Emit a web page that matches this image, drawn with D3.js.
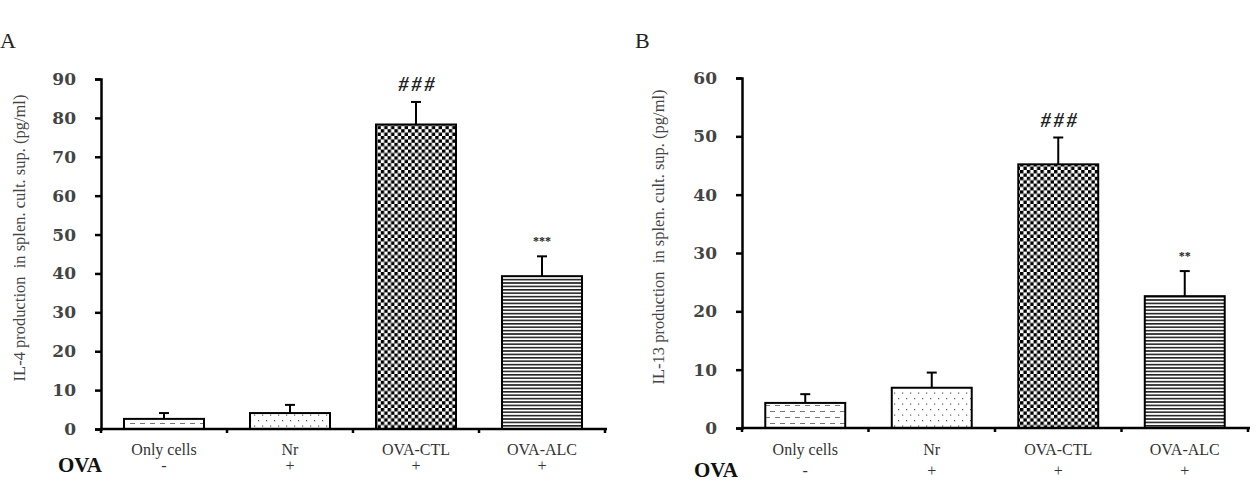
<!DOCTYPE html>
<html><head><meta charset="utf-8">
<script src="https://cdn.jsdelivr.net/npm/d3@7"></script>
<style>body{margin:0;background:#fff}svg{display:block}</style>
</head><body>
<svg id="c" width="1257" height="495"></svg>
<script>
const categories = ["Only cells", "Nr", "OVA-CTL", "OVA-ALC"];
const ovaSigns = ["-", "+", "+", "+"];
const il4Mean = [2.6, 4.1, 78.3, 39.3];
const il4Err = [1.5, 2.1, 5.8, 5.1];
const il4Sig = ["", "", "###", "***"];
const il4Ticks = [0, 10, 20, 30, 40, 50, 60, 70, 80, 90];
const il13Mean = [4.3, 6.9, 45.2, 22.6];
const il13Err = [1.5, 2.6, 4.6, 4.3];
const il13Sig = ["", "", "###", "**"];
const il13Ticks = [0, 10, 20, 30, 40, 50, 60];
const patternIds = ["pDash", "pDot", "pCheck", "pStripe"];

const svg = d3.select("#c");
const defs = svg.append("defs");
let p = defs.append("pattern").attr("id", "pDash").attr("patternUnits", "userSpaceOnUse").attr("width", 10).attr("height", 12);
p.append("rect").attr("width", 10).attr("height", 12).attr("fill", "#fff");
p.append("line").attr("x1", 0).attr("x2", 5).attr("y1", 3.5).attr("y2", 3.5).attr("stroke", "#777").attr("stroke-width", 1);
p.append("line").attr("x1", 5).attr("x2", 10).attr("y1", 9.5).attr("y2", 9.5).attr("stroke", "#777").attr("stroke-width", 1);
p = defs.append("pattern").attr("id", "pDot").attr("patternUnits", "userSpaceOnUse").attr("width", 8).attr("height", 11);
p.append("rect").attr("width", 8).attr("height", 11).attr("fill", "#fff");
p.append("rect").attr("x", 2).attr("y", 2).attr("width", 1.2).attr("height", 1.2).attr("fill", "#555");
p.append("rect").attr("x", 6).attr("y", 7.5).attr("width", 1.2).attr("height", 1.2).attr("fill", "#555");
p = defs.append("pattern").attr("id", "pCheck").attr("patternUnits", "userSpaceOnUse").attr("width", 6.8).attr("height", 6.8);
p.append("rect").attr("width", 6.8).attr("height", 6.8).attr("fill", "#fff");
p.append("rect").attr("width", 3.4).attr("height", 3.4).attr("fill", "#000");
p.append("rect").attr("x", 3.4).attr("y", 3.4).attr("width", 3.4).attr("height", 3.4).attr("fill", "#000");
p = defs.append("pattern").attr("id", "pStripe").attr("patternUnits", "userSpaceOnUse").attr("width", 10).attr("height", 3.4);
p.append("rect").attr("width", 10).attr("height", 3.4).attr("fill", "#fff");
p.append("rect").attr("y", 0).attr("width", 10).attr("height", 1.6).attr("fill", "#222");

function panel(cfg) {
  const g = svg.append("g");
  const y = d3.scaleLinear().domain([0, cfg.max]).range([cfg.y0, cfg.y1]);
  const x = d3.scaleBand().domain(categories).range([cfg.x0, cfg.x1]).paddingInner(cfg.pad).paddingOuter(cfg.pad / 2);
  const step = x.step();

  g.selectAll("rect.bar").data(categories).join("rect")
    .attr("x", d => x(d)).attr("width", x.bandwidth())
    .attr("y", (d, i) => y(cfg.mean[i])).attr("height", (d, i) => y(0) - y(cfg.mean[i]))
    .attr("fill", (d, i) => `url(#${patternIds[i]})`)
    .attr("stroke", "#000").attr("stroke-width", 2);

  const eb = g.selectAll("g.eb").data(categories).join("g");
  eb.append("line")
    .attr("x1", d => x(d) + x.bandwidth() / 2).attr("x2", d => x(d) + x.bandwidth() / 2)
    .attr("y1", (d, i) => y(cfg.mean[i])).attr("y2", (d, i) => y(cfg.mean[i] + cfg.err[i]))
    .attr("stroke", "#000").attr("stroke-width", 2);
  eb.append("line")
    .attr("x1", d => x(d) + x.bandwidth() / 2 - 5).attr("x2", d => x(d) + x.bandwidth() / 2 + 5)
    .attr("y1", (d, i) => y(cfg.mean[i] + cfg.err[i])).attr("y2", (d, i) => y(cfg.mean[i] + cfg.err[i]))
    .attr("stroke", "#000").attr("stroke-width", 2);

  g.selectAll("text.sig").data(categories).join("text")
    .attr("x", (d, i) => x(d) + x.bandwidth() / 2 + (cfg.sig[i].startsWith("#") ? 2 : 0))
    .attr("y", (d, i) => y(cfg.mean[i] + cfg.err[i]) - 11)
    .attr("text-anchor", "middle")
    .attr("font-family", "Liberation Serif")
    .attr("font-weight", "bold")
    .attr("font-style", (d, i) => cfg.sig[i].startsWith("#") ? "italic" : "normal")
    .attr("font-size", (d, i) => cfg.sig[i].startsWith("#") ? 20 : 12)
    .attr("letter-spacing", (d, i) => cfg.sig[i].startsWith("#") ? 3 : 0)
    .attr("fill", "#222")
    .text((d, i) => cfg.sig[i]);

  const ya = g.append("g").attr("transform", `translate(${cfg.x0},0)`)
    .call(d3.axisLeft(y).tickValues(cfg.ticks).tickSize(6).tickSizeOuter(6).tickPadding(19).tickFormat(d3.format("d")));
  ya.select(".domain").attr("stroke", "#000").attr("stroke-width", 2.5);
  ya.selectAll(".tick line").attr("stroke", "#000").attr("stroke-width", 2.5);
  ya.selectAll(".tick text").attr("font-family", "DejaVu Serif").attr("font-weight", "bold")
    .attr("font-size", 17).attr("fill", "#444");

  g.append("line").attr("x1", cfg.x0 - 1).attr("x2", cfg.x1 + 2).attr("y1", y(0)).attr("y2", y(0))
    .attr("stroke", "#000").attr("stroke-width", 2.5);
  g.append("line").attr("x1", cfg.x0).attr("x2", cfg.x0).attr("y1", y(0)).attr("y2", y(0) + 4)
    .attr("stroke", "#000").attr("stroke-width", 2.5);
  g.selectAll("line.xt").data(categories).join("line")
    .attr("x1", d => x(d) + x.bandwidth() + step * cfg.pad / 2)
    .attr("x2", d => x(d) + x.bandwidth() + step * cfg.pad / 2)
    .attr("y1", y(0)).attr("y2", y(0) + 4)
    .attr("stroke", "#000").attr("stroke-width", 2.5);

  g.selectAll("text.cat").data(categories).join("text")
    .attr("x", d => x(d) + x.bandwidth() / 2).attr("y", cfg.catY)
    .attr("text-anchor", "middle").attr("font-family", "Liberation Serif").attr("font-size", 16)
    .attr("fill", "#333").text(d => d);
  g.selectAll("text.sign").data(ovaSigns).join("text")
    .attr("x", (d, i) => x(categories[i]) + x.bandwidth() / 2).attr("y", cfg.signY)
    .attr("text-anchor", "middle").attr("font-family", "Liberation Serif").attr("font-size", 16)
    .attr("fill", "#333").text(d => d);
  g.append("text").attr("x", cfg.ovaX).attr("y", cfg.ovaY).attr("text-anchor", "end")
    .attr("font-family", "Liberation Serif").attr("font-weight", "bold").attr("font-size", 21)
    .attr("fill", "#111").text("OVA");

  g.append("text").attr("transform", `translate(${cfg.labX},${cfg.labY}) rotate(-90)`)
    .attr("text-anchor", "middle").attr("font-family", "Liberation Serif").attr("font-size", 16.5)
    .attr("fill", "#444").attr("xml:space", "preserve").text(cfg.label);

  g.append("text").attr("x", cfg.letterX).attr("y", 48)
    .attr("font-family", "Liberation Serif").attr("font-size", 22).attr("fill", "#222").text(cfg.letter);
}

panel({max: 90, ticks: il4Ticks, mean: il4Mean, err: il4Err, sig: il4Sig,
  x0: 101, x1: 605, y0: 429, y1: 79, pad: 0.365, catY: 455, signY: 471, ovaX: 102, ovaY: 472,
  labX: 25, labY: 238, label: "IL-4 production  in splen. cult. sup. (pg/ml)", letter: "A", letterX: 0});
panel({max: 60, ticks: il13Ticks, mean: il13Mean, err: il13Err, sig: il13Sig,
  x0: 742, x1: 1248, y0: 428, y1: 78, pad: 0.368, catY: 455, signY: 476, ovaX: 738, ovaY: 477,
  labX: 664, labY: 237, label: "IL-13 production  in splen. cult. sup. (pg/ml)", letter: "B", letterX: 635});
</script>
</body></html>
